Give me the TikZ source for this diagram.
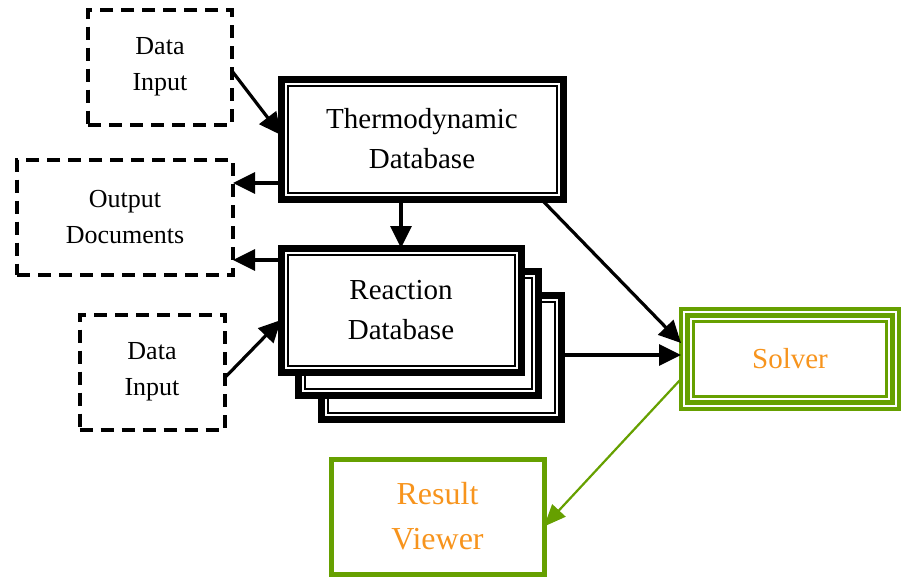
\documentclass[tikz,border=0pt]{standalone}
\usepackage{fontspec}
\setmainfont{Liberation Serif}
\usetikzlibrary{arrows.meta}
\definecolor{lgreen}{HTML}{66A000}
\definecolor{lorange}{HTML}{F7941D}
\begin{document}
\begin{tikzpicture}[x=1pt,y=-1pt,
  dashbox/.style={draw,line width=4pt,dash pattern=on 13pt off 8pt,align=center,inner sep=0pt,outer sep=0pt,
    font=\fontsize{26}{36}\selectfont},
  dbbox/.style={draw,line width=7pt,fill=white,align=center,inner sep=0pt,outer sep=0pt,
    font=\fontsize{29}{40}\selectfont},
  inframe/.style={line width=2pt},
  arr/.style={line width=3.2pt,-{Triangle[length=22pt,width=21pt]}},
  garr/.style={line width=2.2pt,draw=lgreen,-{Triangle[length=22pt,width=18pt]},fill=lgreen}
]
\useasboundingbox (0,0) rectangle (903,579);
% dashed boxes
\node[dashbox,minimum width=144pt,minimum height=115pt] (di1) at (160,67) {Data\\Input};
\node[dashbox,minimum width=216pt,minimum height=115pt] (outdoc) at (125,217) {Output\\Documents};
\node[dashbox,minimum width=145pt,minimum height=115pt] (di2) at (152,372) {Data\\Input};
% thermodynamic database
\node[dbbox,minimum width=282pt,minimum height=120pt] (thermo) at (422,139) {Thermodynamic\\Database};
\draw[inframe] ([xshift=6.5pt,yshift=-6.5pt]thermo.north west) rectangle ([xshift=-6.5pt,yshift=6.5pt]thermo.south east);
% reaction database stack
\node[dbbox,minimum width=240pt,minimum height=124pt] (react3) at (441,357) {};
\draw[inframe] ([xshift=6.5pt,yshift=-6.5pt]react3.north west) rectangle ([xshift=-6.5pt,yshift=6.5pt]react3.south east);
\node[dbbox,minimum width=240pt,minimum height=124pt] (react2) at (418,333) {};
\draw[inframe] ([xshift=6.5pt,yshift=-6.5pt]react2.north west) rectangle ([xshift=-6.5pt,yshift=6.5pt]react2.south east);
\node[dbbox,minimum width=240pt,minimum height=124pt] (react) at (401,310) {Reaction\\Database};
\draw[inframe] ([xshift=6.5pt,yshift=-6.5pt]react.north west) rectangle ([xshift=-6.5pt,yshift=6.5pt]react.south east);
% solver
\node[draw=lgreen,line width=3.5pt,minimum width=218pt,minimum height=100pt,inner sep=0pt,outer sep=0pt,
  text=lorange,font=\fontsize{29}{36}\selectfont] (solver) at (790,359) {Solver};
\draw[lgreen,line width=5pt] ([xshift=6.5pt,yshift=-6.5pt]solver.north west) rectangle ([xshift=-6.5pt,yshift=6.5pt]solver.south east);
\draw[lgreen,line width=3pt] ([xshift=12.5pt,yshift=-12.5pt]solver.north west) rectangle ([xshift=-12.5pt,yshift=12.5pt]solver.south east);
% result viewer
\node[draw=lgreen,line width=5pt,minimum width=213pt,minimum height=115pt,inner sep=0pt,outer sep=0pt,align=center,
  text=lorange,font=\fontsize{32}{45}\selectfont] (result) at (437.5,516.5) {Result\\Viewer};
% connectors
\draw[arr] ([yshift=-4pt]di1.east) -- ([yshift=4pt]thermo.west);
\draw[arr] (thermo.west |- 0,183) -- (outdoc.east |- 0,183);
\draw[arr] (react.north |- thermo.south) -- (react.north);
\draw[arr] (react.west |- 0,260) -- (outdoc.east |- 0,260);
\draw[arr] ([yshift=-6pt]di2.east) -- ([yshift=-10pt]react.west);
\draw[arr] ([xshift=-22pt]thermo.south east) -- ([yshift=16pt]solver.west);
\draw[arr] (react3.east |- 0,355) -- (solver.west |- 0,355);
\draw[garr] ([yshift=-20pt]solver.west) -- ([yshift=-10pt]result.east);
\end{tikzpicture}
\end{document}
